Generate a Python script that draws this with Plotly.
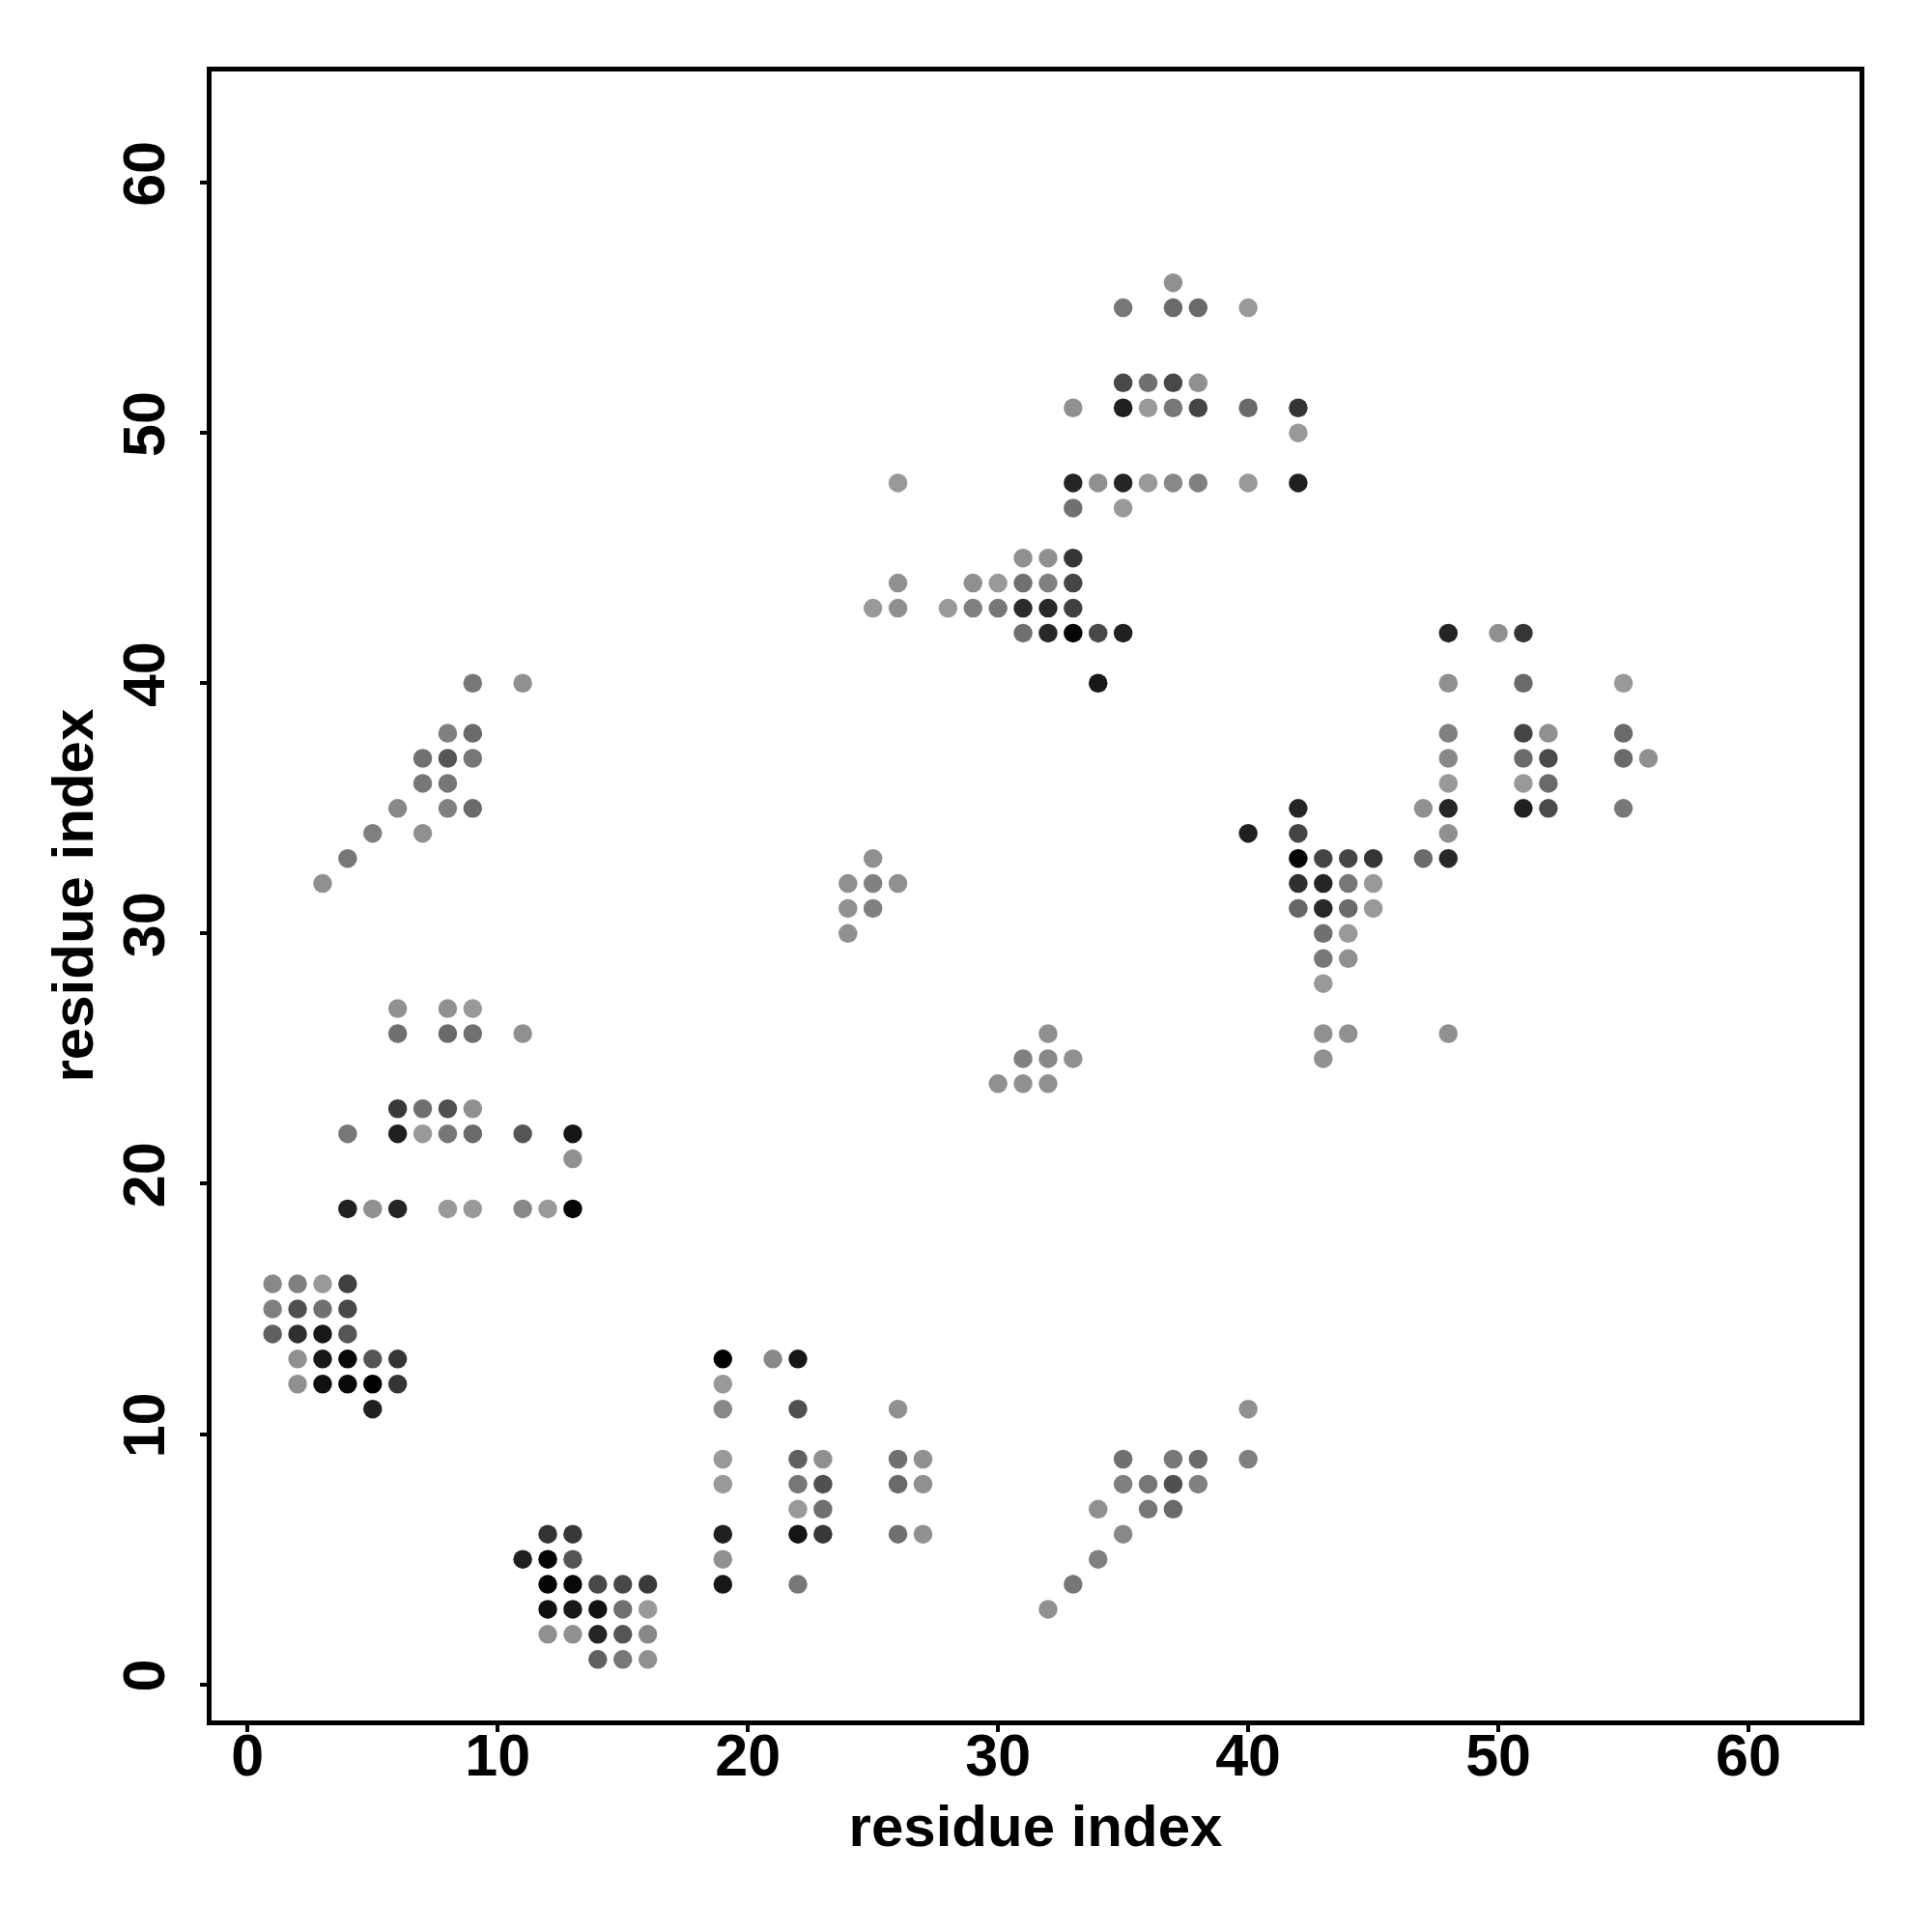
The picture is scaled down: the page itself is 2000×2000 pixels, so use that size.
import plotly.graph_objects as go

# residue i (x), residue j (y), grey shade (0 = black, 255 = white)
res_i = [
    1, 2, 3, 4, 1, 2, 3, 4, 1, 2, 3, 4, 2, 3, 4, 5, 6, 2, 3, 4, 5, 6, 5,
    12, 13, 11, 12, 13, 12, 13, 14, 15, 16, 12, 13, 14, 15, 16, 12, 13, 14, 15, 16, 14, 15, 16,
    19, 21, 22, 19, 19, 22, 26, 19, 22, 23, 26, 27, 19, 22, 23, 26, 27, 22, 23, 19, 22, 23, 26, 27, 19, 19, 22,
    40, 35, 37, 38, 40, 35, 36, 37, 38, 34, 36, 37, 35, 34, 33, 32,
    6, 8, 9, 6, 8, 9, 11, 6, 7, 8, 9, 4, 6, 7, 8, 9, 11, 13, 13, 4, 5, 6, 8, 9, 11, 12, 13,
    9, 11, 8, 9, 7, 8, 9, 7, 8, 6, 8, 9, 5, 7, 4, 3,
    25, 24, 25, 26, 24, 25, 24,
    32, 31, 32, 33, 30, 31, 32,
    31, 32, 33, 26, 29, 30, 31, 32, 33, 25, 26, 28, 29, 30, 31, 32, 33, 31, 32, 33, 34, 35, 34, 26,
    37, 35, 37, 38, 40, 35, 36, 37, 38, 33, 35, 36, 37, 38, 40, 42, 42, 33, 34, 35, 36, 37, 38, 40, 42, 33, 35,
    42, 40, 42, 42, 43, 44, 45, 42, 43, 44, 45, 42, 43, 44, 45, 43, 44, 43, 44, 43, 43, 44, 43,
    48, 50, 51, 48, 51, 55, 48, 51, 52, 55, 48, 51, 52, 55, 56, 48, 51, 52, 47, 48, 51, 52, 55, 48, 47, 48, 48,
]
res_j = [
    16, 16, 16, 16, 15, 15, 15, 15, 14, 14, 14, 14, 13, 13, 13, 13, 13, 12, 12, 12, 12, 12, 11,
    6, 6, 5, 5, 5, 4, 4, 4, 4, 4, 3, 3, 3, 3, 3, 2, 2, 2, 2, 2, 1, 1, 1,
    13, 13, 13, 12, 11, 11, 11, 9, 9, 9, 9, 9, 8, 8, 8, 8, 8, 7, 7, 6, 6, 6, 6, 6, 5, 4, 4,
    11, 9, 9, 9, 9, 8, 8, 8, 8, 7, 7, 7, 6, 5, 4, 3,
    27, 27, 27, 26, 26, 26, 26, 23, 23, 23, 23, 22, 22, 22, 22, 22, 22, 22, 21, 19, 19, 19, 19, 19, 19, 19, 19,
    40, 40, 38, 38, 37, 37, 37, 36, 36, 35, 35, 35, 34, 34, 33, 32,
    33, 32, 32, 32, 31, 31, 30,
    26, 25, 25, 25, 24, 24, 24,
    45, 45, 45, 44, 44, 44, 44, 44, 44, 43, 43, 43, 43, 43, 43, 43, 43, 42, 42, 42, 42, 42, 40, 48,
    56, 55, 55, 55, 55, 52, 52, 52, 52, 51, 51, 51, 51, 51, 51, 51, 50, 48, 48, 48, 48, 48, 48, 48, 48, 47, 47,
    35, 34, 34, 33, 33, 33, 33, 32, 32, 32, 32, 31, 31, 31, 31, 30, 30, 29, 29, 28, 26, 26, 25,
    42, 42, 42, 40, 40, 40, 38, 38, 38, 38, 37, 37, 37, 37, 37, 36, 36, 36, 35, 35, 35, 35, 35, 34, 33, 33, 26,
]
shade = [
    0x88, 0x80, 0x99, 0x40, 0x80, 0x50, 0x70, 0x48, 0x60, 0x30, 0x18, 0x55,
    0x90, 0x18, 0x08, 0x55, 0x35, 0x90, 0x10, 0x08, 0x00, 0x35, 0x20,
    0x33, 0x38, 0x20, 0x05, 0x55, 0x05, 0x08, 0x48, 0x48, 0x3a, 0x10, 0x18, 0x12, 0x70, 0x99,
    0x90, 0x90, 0x25, 0x55, 0x88, 0x60, 0x77, 0x90,
    0x00, 0x88, 0x15, 0x99, 0x88, 0x50, 0x90, 0x99, 0x60, 0x90, 0x70, 0x90,
    0x99, 0x77, 0x50, 0x6a, 0x90, 0x99, 0x70, 0x20, 0x15, 0x38, 0x70, 0x90, 0x90, 0x18, 0x77,
    0x90, 0x70, 0x77, 0x6a, 0x80, 0x80, 0x77, 0x50, 0x80, 0x90, 0x77, 0x6a, 0x88, 0x80, 0x77, 0x90,
    0x90, 0x90, 0x99, 0x70, 0x6a, 0x70, 0x90, 0x38, 0x70, 0x50, 0x90,
    0x77, 0x20, 0x99, 0x77, 0x6a, 0x55, 0x15, 0x90, 0x20, 0x90, 0x25, 0x99, 0x99, 0x88, 0x99, 0x05,
    0x77, 0x90, 0x80, 0x6a, 0x70, 0x55, 0x77, 0x77, 0x77, 0x88, 0x80, 0x6a, 0x80, 0x90, 0x77, 0x90,
    0x90, 0x90, 0x80, 0x90, 0x90, 0x80, 0x90,
    0x90, 0x80, 0x88, 0x90, 0x90, 0x90, 0x90,
    0x90, 0x90, 0x35, 0x90, 0x90, 0x99, 0x70, 0x80, 0x45, 0x99, 0x90, 0x99, 0x80, 0x77, 0x2a, 0x28, 0x40,
    0x70, 0x28, 0x05, 0x48, 0x20, 0x18, 0x99,
    0x90, 0x77, 0x6a, 0x6a, 0x99, 0x48, 0x70, 0x48, 0x90, 0x90, 0x20, 0x99, 0x77, 0x45, 0x6a, 0x35, 0x99,
    0x25, 0x90, 0x25, 0x99, 0x88, 0x80, 0x99, 0x20, 0x70, 0x99,
    0x25, 0x20, 0x45, 0x05, 0x45, 0x45, 0x35, 0x30, 0x25, 0x77, 0x99, 0x66, 0x28, 0x6a, 0x99,
    0x70, 0x99, 0x77, 0x90, 0x99, 0x90, 0x90, 0x90,
    0x25, 0x90, 0x35, 0x90, 0x6a, 0x99, 0x80, 0x45, 0x90, 0x6a, 0x88, 0x6a, 0x4a, 0x6a, 0x90,
    0x99, 0x99, 0x6a, 0x90, 0x25, 0x20, 0x4a, 0x77, 0x90, 0x6a, 0x28, 0x90,
]

tick_vals = [0, 10, 20, 30, 40, 50, 60]
axis_title = "residue index"

colors = [f"rgb({g},{g},{g})" for g in shade]

fig = go.Figure(
    go.Scatter(
        x=res_i,
        y=res_j,
        mode="markers",
        marker=dict(size=19.5, color=colors, line=dict(width=0)),
        showlegend=False,
    )
)

font_family = "Liberation Sans, Arial, sans-serif"
axis_common = dict(
    range=[-1.44, 64.44],
    tickvals=tick_vals,
    ticks="outside",
    ticklen=7,
    tickwidth=4,
    tickcolor="black",
    showline=True,
    linecolor="black",
    linewidth=5,
    mirror=True,
    showgrid=False,
    zeroline=False,
    automargin=False,
    tickfont=dict(family=font_family, size=61, color="black", weight="bold"),
)
title_font = dict(family=font_family, size=60, color="black", weight="bold")

fig.update_layout(
    template="none",
    width=2000,
    height=2000,
    margin=dict(l=211, r=83, t=66, b=227),
    paper_bgcolor="white",
    plot_bgcolor="white",
    xaxis=dict(
        **axis_common,
        ticklabelstandoff=-28,
        title=dict(text=axis_title, standoff=20, font=title_font),
    ),
    yaxis=dict(
        **axis_common,
        tickangle=-90,
        ticklabelstandoff=13,
    ),
    annotations=[
        dict(
            text=axis_title,
            xref="paper", yref="paper",
            x=0, y=0.5,
            xanchor="center", yanchor="middle",
            xshift=-144,
            textangle=-90,
            showarrow=False,
            font=title_font,
        )
    ],
)

fig.write_html("out.html")
